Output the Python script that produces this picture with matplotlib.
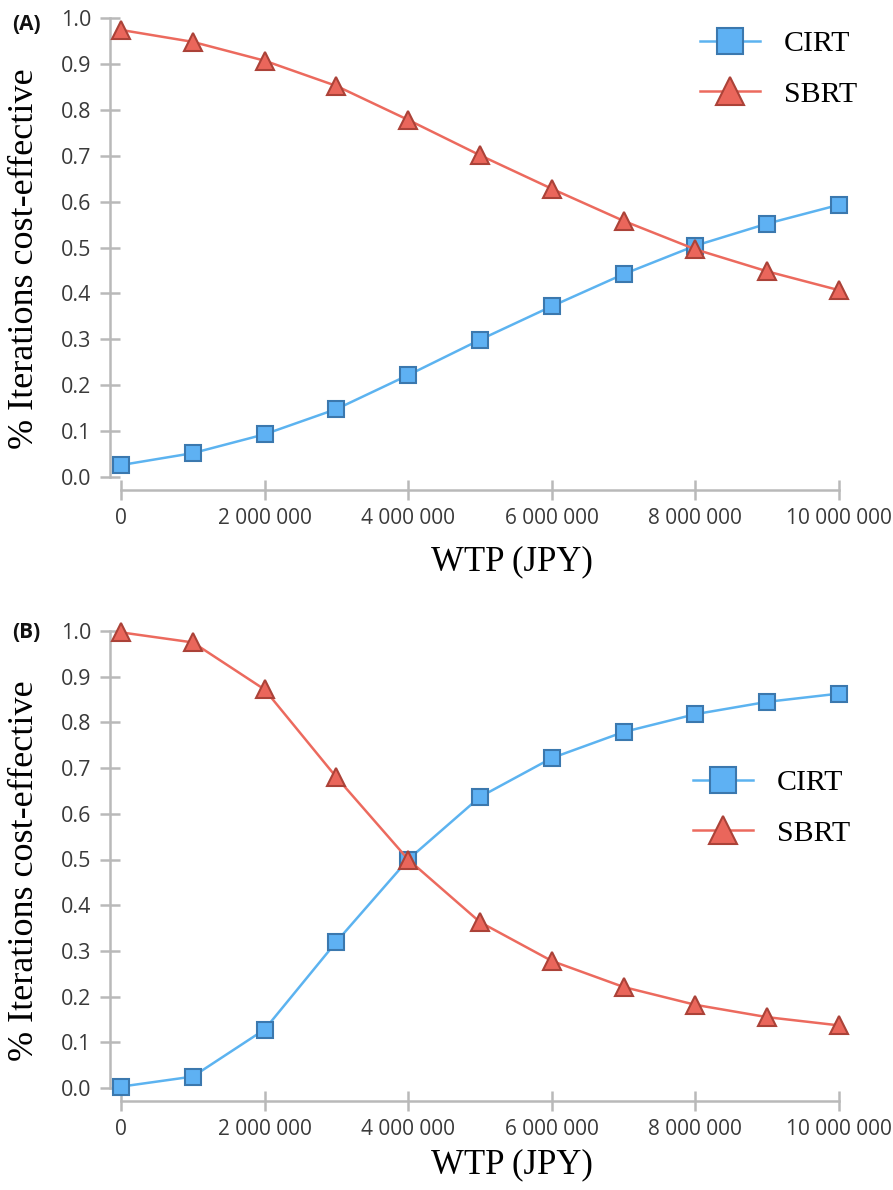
import matplotlib
matplotlib.use('Agg')
import matplotlib.pyplot as plt

# WTP thresholds (JPY)
wtp = [0, 1000000, 2000000, 3000000, 4000000, 5000000,
       6000000, 7000000, 8000000, 9000000, 10000000]

# panel A
cirt_a = [0.026, 0.052, 0.093, 0.148, 0.222, 0.299, 0.372, 0.442, 0.504, 0.552, 0.593]
sbrt_a = [0.974, 0.948, 0.907, 0.852, 0.778, 0.701, 0.628, 0.558, 0.496, 0.448, 0.407]

# panel B
cirt_b = [0.003, 0.025, 0.128, 0.320, 0.500, 0.637, 0.722, 0.779, 0.818, 0.845, 0.863]
sbrt_b = [0.997, 0.975, 0.872, 0.680, 0.500, 0.363, 0.278, 0.221, 0.182, 0.155, 0.137]

xticks = [0, 2000000, 4000000, 6000000, 8000000, 10000000]
xtick_labels = ['0', '2 000 000', '4 000 000', '6 000 000', '8 000 000', '10 000 000']
yticks = [0.0, 0.1, 0.2, 0.3, 0.4, 0.5, 0.6, 0.7, 0.8, 0.9, 1.0]
ytick_labels = ['%.1f' % v for v in yticks]

AXIS_GRAY = '#b9b9b9'
TICK_TXT = '#3a3a3a'
SERIF = ['Liberation Serif', 'DejaVu Serif']
SANS = ['Open Sans', 'DejaVu Sans']

fig = plt.figure(figsize=(8.93, 11.9), dpi=100)
W, H = 893.0, 1190.0


def make_panel(rect, cirt, sbrt, tag, tag_y, leg_xy, xlabel_y):
    ax = fig.add_axes(rect)
    ax.set_xlim(0, 10000000)
    ax.set_ylim(0, 1.0)

    ax.plot(wtp, cirt, color='#5cb3f0', lw=1.8, marker='s', markersize=11,
            markerfacecolor='#5eb1f3', markeredgecolor='#3b78ae', markeredgewidth=1.5,
            clip_on=False, zorder=3, label='CIRT')
    ax.plot(wtp, sbrt, color='#ec6a5e', lw=1.8, marker='^', markersize=12.5,
            markerfacecolor='#ea665b', markeredgecolor='#ab4238', markeredgewidth=1.5,
            clip_on=False, zorder=3, label='SBRT')

    # border of axis x and y
    ax.spines['top'].set_color('none')
    ax.spines['right'].set_color('none')
    ax.spines['left'].set_color(AXIS_GRAY)
    ax.spines['bottom'].set_color(AXIS_GRAY)
    ax.spines['left'].set_linewidth(1.8)
    ax.spines['bottom'].set_linewidth(1.8)
    ax.spines['left'].set_position(('outward', 8))
    ax.spines['bottom'].set_position(('outward', 9.4))
    ax.spines['left'].set_bounds(0, 1.0)
    ax.spines['bottom'].set_bounds(0, 10000000)

    ax.set_xticks(xticks)
    ax.set_xticklabels(xtick_labels, fontfamily=SANS, fontsize=15, color=TICK_TXT)
    ax.set_yticks(yticks)
    ax.set_yticklabels(ytick_labels, fontfamily=SANS, fontsize=15.5, color=TICK_TXT)
    ax.tick_params(direction='inout', length=14.4, width=1.8, color=AXIS_GRAY)
    ax.tick_params(axis='x', pad=6)
    ax.tick_params(axis='y', pad=6)

    ax.set_ylabel('% Iterations cost-effective', fontfamily=SERIF, fontsize=26)
    ax.yaxis.set_label_coords(-0.111, 0.475)
    ax.set_xlabel('WTP (JPY)', fontfamily=SERIF, fontsize=25)
    ax.xaxis.set_label_coords(0.545, xlabel_y)
    ax.xaxis.label.set_va('top')

    ax.legend(loc='center left', bbox_to_anchor=(leg_xy[0] / W, 1 - leg_xy[1] / H),
              bbox_transform=fig.transFigure, frameon=False, borderpad=0,
              borderaxespad=0, markerscale=1.65, handlelength=2.0, handletextpad=0.8,
              labelspacing=0.8, prop={'family': SERIF, 'size': 21.5})

    fig.text(12 / W, 1 - tag_y / H, tag, fontfamily=SANS, fontweight='bold',
             fontsize=15, va='center', ha='left', color='#111111')
    return ax


make_panel([121 / W, 1 - 477 / H, 718 / W, 459 / H], cirt_a, sbrt_a,
           '(A)', 25, (700, 69), -0.148)
make_panel([121 / W, 1 - 1088 / H, 718 / W, 457 / H], cirt_b, sbrt_b,
           '(B)', 632, (693, 808), -0.133)

plt.savefig('out.png', dpi=100, facecolor='white')
